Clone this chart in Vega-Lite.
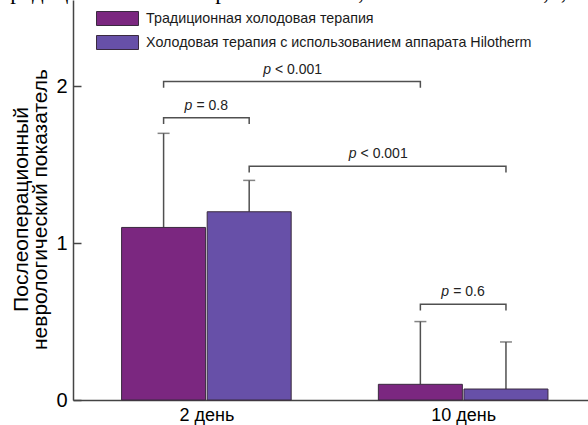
{
  "$schema": "https://vega.github.io/schema/vega-lite/v6.json",
  "width": 515,
  "height": 400,
  "autosize": {"type": "none"},
  "padding": {"left": 73, "top": 0, "right": 0, "bottom": 25},
  "background": "white",
  "title": {
    "text": "традиционная\u00a0\u00a0\u00a0\u00a0\u00a0\u00a0\u00a0\u00a0\u00a0\u00a0терапия\u00a0\u00a0\u00a0\u00a0\u00a0\u00a0\u00a0\u00a0\u00a0\u00a0\u00a022,0\u00a0\u00a0\u00a0\u00a0\u00a0\u00a0\u00a0\u00a0\u00a0\u00a0\u00a0\u00a0\u00a0\u00a0±\u00a0\u00a0\u00a0\u00a0\u00a0\u00a0\u00a0\u00a0\u00a0\u00a0\u00a01,9;",
    "anchor": "start",
    "frame": "group",
    "orient": "top",
    "font": "Liberation Serif",
    "fontSize": 23,
    "fontWeight": "normal",
    "color": "#000000",
    "baseline": "alphabetic",
    "offset": 0,
    "dx": -73,
    "dy": 22
  },
  "config": {
    "view": {"stroke": null},
    "font": "Liberation Sans",
    "axis": {"grid": false}
  },
  "datasets": {
    "bars": [
      {"slot": 1, "day": "2 день", "therapy": "Традиционная холодовая терапия", "mean": 1.1, "upper": 1.7},
      {"slot": 2, "day": "2 день", "therapy": "Холодовая терапия с использованием аппарата Hilotherm", "mean": 1.2, "upper": 1.4},
      {"slot": 4, "day": "10 день", "therapy": "Традиционная холодовая терапия", "mean": 0.1, "upper": 0.5},
      {"slot": 5, "day": "10 день", "therapy": "Холодовая терапия с использованием аппарата Hilotherm", "mean": 0.07, "upper": 0.37}
    ],
    "brackets": [
      {"id": "a", "slot": 1, "y": 1.99, "ord": 0},
      {"id": "a", "slot": 1, "y": 2.03, "ord": 1},
      {"id": "a", "slot": 4, "y": 2.03, "ord": 2},
      {"id": "a", "slot": 4, "y": 1.99, "ord": 3},
      {"id": "b", "slot": 1, "y": 1.76, "ord": 0},
      {"id": "b", "slot": 1, "y": 1.8, "ord": 1},
      {"id": "b", "slot": 2, "y": 1.8, "ord": 2},
      {"id": "b", "slot": 2, "y": 1.76, "ord": 3},
      {"id": "c", "slot": 2, "y": 1.45, "ord": 0},
      {"id": "c", "slot": 2, "y": 1.49, "ord": 1},
      {"id": "c", "slot": 5, "y": 1.49, "ord": 2},
      {"id": "c", "slot": 5, "y": 1.45, "ord": 3},
      {"id": "d", "slot": 4, "y": 0.57, "ord": 0},
      {"id": "d", "slot": 4, "y": 0.61, "ord": 1},
      {"id": "d", "slot": 5, "y": 0.61, "ord": 2},
      {"id": "d", "slot": 5, "y": 0.57, "ord": 3}
    ],
    "labels": [
      {"mid": 2.5, "level": 2.03, "rest": "< 0.001", "kind": "long"},
      {"mid": 1.5, "level": 1.8, "rest": "= 0.8", "kind": "short"},
      {"mid": 3.5, "level": 1.49, "rest": "< 0.001", "kind": "long"},
      {"mid": 4.5, "level": 0.61, "rest": "= 0.6", "kind": "short"}
    ]
  },
  "layer": [
    {
      "data": {"name": "bars"},
      "mark": {"type": "rule", "color": "#505050", "strokeWidth": 1.5},
      "encoding": {
        "x": {"field": "slot", "type": "quantitative"},
        "y": {"field": "mean", "type": "quantitative"},
        "y2": {"field": "upper"}
      }
    },
    {
      "data": {"name": "bars"},
      "mark": {"type": "tick", "color": "#505050", "thickness": 1.5, "size": 12, "orient": "horizontal"},
      "encoding": {
        "x": {"field": "slot", "type": "quantitative"},
        "y": {"field": "upper", "type": "quantitative"}
      }
    },
    {
      "data": {"name": "bars"},
      "mark": {"type": "bar", "width": 84, "stroke": "#3a2a3f", "strokeWidth": 1},
      "encoding": {
        "x": {
          "field": "slot", "type": "quantitative",
          "scale": {"domain": [0, 5.9], "nice": false, "zero": false},
          "axis": {
            "values": [1.5, 4.5],
            "labelExpr": "datum.value < 3 ? '2 день' : '10 день'",
            "ticks": false,
            "domainColor": "#444444",
            "domainWidth": 1.5,
            "labelFontSize": 18,
            "labelColor": "#000000",
            "labelPadding": 6,
            "title": null
          }
        },
        "y": {
          "field": "mean", "type": "quantitative",
          "scale": {"domain": [0, 2.55], "nice": false},
          "axis": {
            "values": [0, 1, 2],
            "format": "d",
            "tickSize": -8,
            "tickColor": "#444444",
            "tickWidth": 1.5,
            "domainColor": "#444444",
            "domainWidth": 1.5,
            "labelPadding": 14,
            "labelFontSize": 20,
            "labelColor": "#000000",
            "title": ["Послеоперационный", "неврологический показатель"],
            "titleFontSize": 21,
            "titleFontWeight": "normal",
            "titleLineHeight": 19,
            "titleColor": "#000000",
            "titlePadding": 5,
            "titleY": 209
          }
        },
        "fill": {
          "field": "therapy", "type": "nominal",
          "scale": {
            "domain": ["Традиционная холодовая терапия", "Холодовая терапия с использованием аппарата Hilotherm"],
            "range": ["#7b2780", "#6750a8"]
          },
          "legend": {
            "title": null,
            "orient": "none",
            "legendX": 30,
            "legendY": 4,
            "symbolType": "M-1.5,-0.5H1.5V0.5H-1.5Z",
            "symbolSize": 784,
            "symbolStrokeColor": "#3a2a3f",
            "symbolStrokeWidth": 1,
            "symbolOpacity": 1,
            "labelFontSize": 14.3,
            "labelColor": "#1a1a1a",
            "labelOffset": 14,
            "rowPadding": -7,
            "labelLimit": 500
          }
        }
      }
    },
    {
      "data": {"name": "brackets"},
      "mark": {"type": "line", "color": "#505050", "strokeWidth": 1.5},
      "encoding": {
        "x": {"field": "slot", "type": "quantitative"},
        "y": {"field": "y", "type": "quantitative"},
        "detail": {"field": "id"},
        "order": {"field": "ord", "type": "quantitative"}
      }
    },
    {
      "data": {"name": "labels"},
      "transform": [{"filter": "datum.kind == 'long'"}],
      "mark": {"type": "text", "text": "p", "fontStyle": "italic", "fontSize": 14, "align": "right", "baseline": "bottom", "dx": -21, "dy": -5, "color": "#222222"},
      "encoding": {
        "x": {"field": "mid", "type": "quantitative"},
        "y": {"field": "level", "type": "quantitative"}
      }
    },
    {
      "data": {"name": "labels"},
      "transform": [{"filter": "datum.kind == 'long'"}],
      "mark": {"type": "text", "fontSize": 14, "align": "left", "baseline": "bottom", "dx": -17, "dy": -5, "color": "#222222"},
      "encoding": {
        "x": {"field": "mid", "type": "quantitative"},
        "y": {"field": "level", "type": "quantitative"},
        "text": {"field": "rest"}
      }
    },
    {
      "data": {"name": "labels"},
      "transform": [{"filter": "datum.kind == 'short'"}],
      "mark": {"type": "text", "text": "p", "fontStyle": "italic", "fontSize": 14, "align": "right", "baseline": "bottom", "dx": -14, "dy": -5, "color": "#222222"},
      "encoding": {
        "x": {"field": "mid", "type": "quantitative"},
        "y": {"field": "level", "type": "quantitative"}
      }
    },
    {
      "data": {"name": "labels"},
      "transform": [{"filter": "datum.kind == 'short'"}],
      "mark": {"type": "text", "fontSize": 14, "align": "left", "baseline": "bottom", "dx": -10, "dy": -5, "color": "#222222"},
      "encoding": {
        "x": {"field": "mid", "type": "quantitative"},
        "y": {"field": "level", "type": "quantitative"},
        "text": {"field": "rest"}
      }
    }
  ]
}
